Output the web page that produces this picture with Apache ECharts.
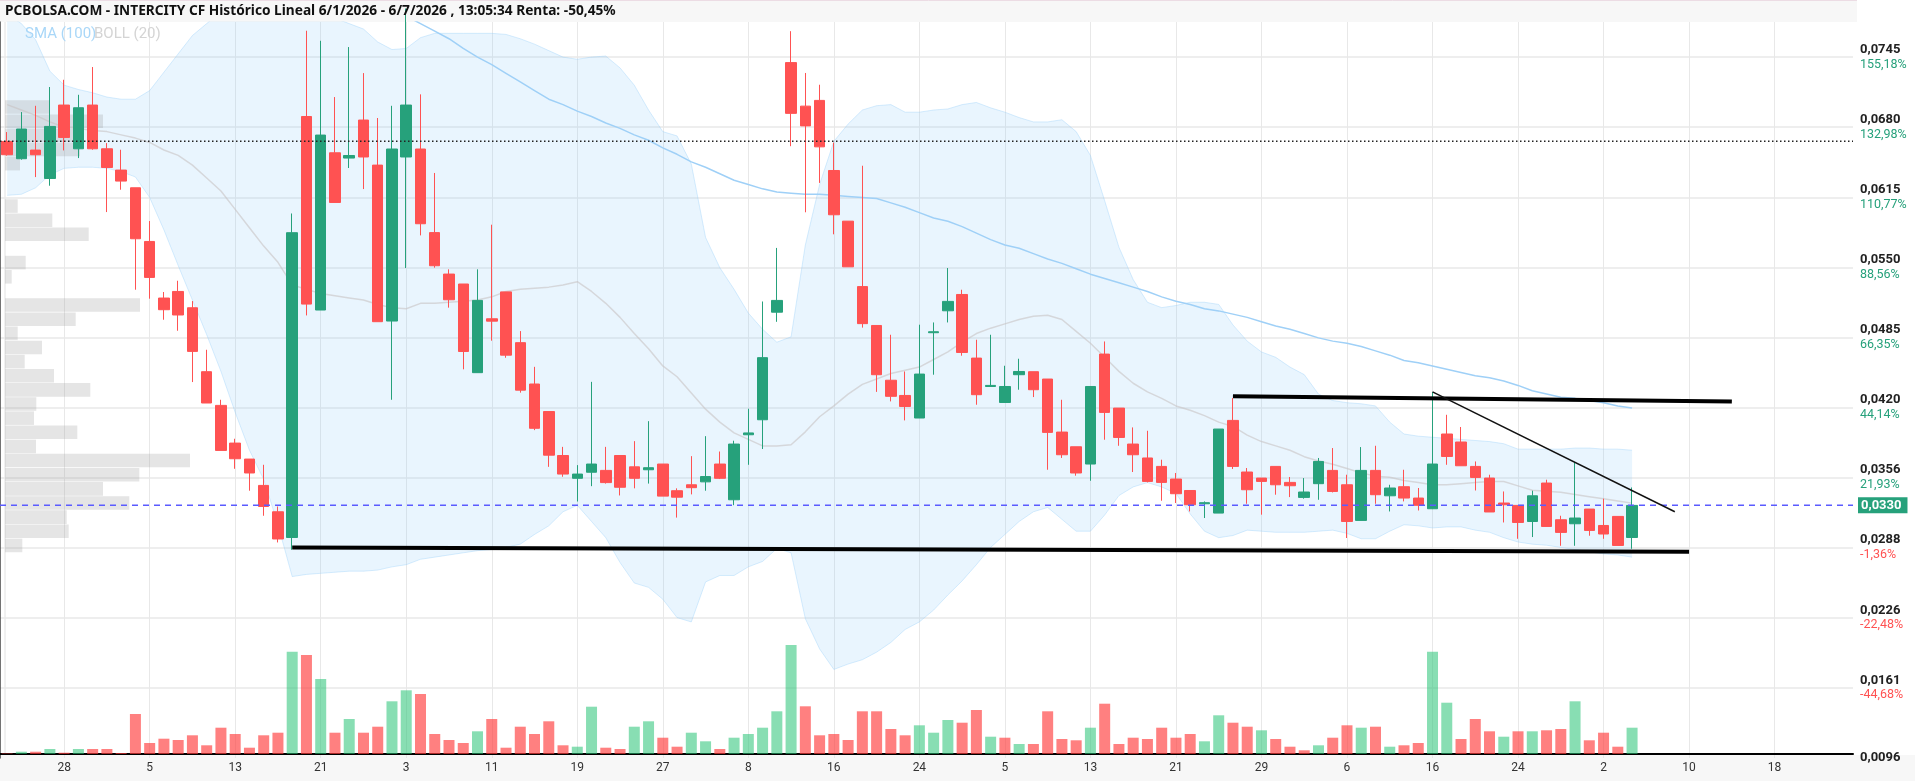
<!DOCTYPE html>
<html>
<head>
<meta charset="utf-8">
<title>INTERCITY CF</title>
<script src="https://cdn.jsdelivr.net/npm/echarts@6/dist/echarts.min.js"></script>
<style>
html, body { margin: 0; padding: 0; background: #fff; }
#chart { width: 1923px; height: 781px; }
</style>
</head>
<body>
<div id="chart"></div>
<script>
// velas: [apertura, cierre, minimo, maximo]
const candles = [
    [0.06669, 0.06546, 0.06537, 0.06756], [0.06509, 0.06784, 0.06500, 0.06941], [0.06589, 0.06546, 0.06339, 0.06999],
    [0.06326, 0.06808, 0.06259, 0.07173], [0.07006, 0.06706, 0.06586, 0.07240], [0.06601, 0.06981, 0.06515, 0.07101],
    [0.07006, 0.06601, 0.06592, 0.07358], [0.06601, 0.06428, 0.06015, 0.06654], [0.06404, 0.06302, 0.06222, 0.06592],
    [0.06240, 0.05768, 0.05296, 0.06240], [0.05743, 0.05410, 0.05213, 0.05932], [0.05219, 0.05111, 0.05018, 0.05275],
    [0.05280, 0.05062, 0.04916, 0.05379], [0.05129, 0.04725, 0.04441, 0.05191], [0.04537, 0.04247, 0.04247, 0.04740],
    [0.04225, 0.03808, 0.03808, 0.04277], [0.03876, 0.03731, 0.03638, 0.03916], [0.03728, 0.03599, 0.03435, 0.03728],
    [0.03484, 0.03289, 0.03203, 0.03675], [0.03240, 0.02988, 0.02956, 0.03289], [0.03002, 0.05824, 0.02888, 0.06002],
    [0.06900, 0.05163, 0.05058, 0.07694], [0.05108, 0.06728, 0.05108, 0.07601], [0.06564, 0.06104, 0.06104, 0.07080],
    [0.06515, 0.06539, 0.06423, 0.07543], [0.06867, 0.06525, 0.06228, 0.07302], [0.06450, 0.05000, 0.05000, 0.06886],
    [0.05006, 0.06599, 0.04277, 0.06999], [0.06525, 0.07006, 0.05497, 0.07900], [0.06599, 0.05907, 0.05799, 0.07105],
    [0.05825, 0.05518, 0.05500, 0.06377], [0.05441, 0.05203, 0.05130, 0.05485], [0.05349, 0.04724, 0.04559, 0.05349],
    [0.04528, 0.05197, 0.04528, 0.05485], [0.05027, 0.05005, 0.04824, 0.05898], [0.05276, 0.04690, 0.04666, 0.05276],
    [0.04806, 0.04366, 0.04343, 0.04913], [0.04423, 0.04013, 0.03996, 0.04582], [0.04168, 0.03764, 0.03656, 0.04168],
    [0.03761, 0.03589, 0.03564, 0.03841], [0.03550, 0.03589, 0.03335, 0.03672], [0.03606, 0.03682, 0.03477, 0.04443],
    [0.03623, 0.03510, 0.03501, 0.03841], [0.03761, 0.03467, 0.03391, 0.03761], [0.03656, 0.03550, 0.03457, 0.03894],
    [0.03629, 0.03648, 0.03501, 0.04079], [0.03682, 0.03385, 0.03385, 0.03682], [0.03435, 0.03375, 0.03186, 0.03457],
    [0.03490, 0.03463, 0.03401, 0.03755], [0.03517, 0.03566, 0.03435, 0.03940], [0.03682, 0.03550, 0.03543, 0.03798],
    [0.03351, 0.03867, 0.03301, 0.03898], [0.03953, 0.03970, 0.03675, 0.04194], [0.04092, 0.04667, 0.03821, 0.05187],
    [0.05088, 0.05197, 0.04999, 0.05683], [0.07399, 0.06929, 0.06625, 0.07690], [0.06996, 0.06813, 0.06013, 0.07303],
    [0.07049, 0.06619, 0.06285, 0.07194], [0.06400, 0.05990, 0.05809, 0.06658], [0.05931, 0.05508, 0.05508, 0.05931],
    [0.05325, 0.04982, 0.04945, 0.06444], [0.04965, 0.04509, 0.04350, 0.04965], [0.04458, 0.04309, 0.04262, 0.04879],
    [0.04317, 0.04215, 0.04086, 0.04539], [0.04108, 0.04515, 0.04108, 0.04972], [0.04898, 0.04907, 0.04509, 0.04993],
    [0.05101, 0.05188, 0.04993, 0.05497], [0.05252, 0.04715, 0.04685, 0.05296], [0.04663, 0.04324, 0.04231, 0.04833],
    [0.04400, 0.04410, 0.04400, 0.04879], [0.04252, 0.04400, 0.04252, 0.04592], [0.04509, 0.04539, 0.04370, 0.04657],
    [0.04537, 0.04370, 0.04302, 0.04537], [0.04469, 0.03975, 0.03629, 0.04469], [0.03978, 0.03768, 0.03738, 0.04277],
    [0.03842, 0.03599, 0.03574, 0.03842], [0.03682, 0.04400, 0.03527, 0.04400], [0.04700, 0.04160, 0.03907, 0.04817],
    [0.04200, 0.03928, 0.03851, 0.04200], [0.03867, 0.03768, 0.03608, 0.04021], [0.03738, 0.03521, 0.03512, 0.03990],
    [0.03660, 0.03512, 0.03342, 0.03722], [0.03543, 0.03407, 0.03321, 0.03599], [0.03437, 0.03305, 0.03243, 0.03437],
    [0.03314, 0.03324, 0.03182, 0.03336], [0.03228, 0.04006, 0.03228, 0.04006], [0.04086, 0.03660, 0.03636, 0.04293],
    [0.03608, 0.03444, 0.03314, 0.03645], [0.03552, 0.03521, 0.03213, 0.03552], [0.03660, 0.03490, 0.03398, 0.03660],
    [0.03512, 0.03481, 0.03376, 0.03562], [0.03373, 0.03423, 0.03361, 0.03552], [0.03500, 0.03706, 0.03351, 0.03738],
    [0.03623, 0.03428, 0.03419, 0.03830], [0.03490, 0.03150, 0.02997, 0.03583], [0.03160, 0.03623, 0.03160, 0.03839],
    [0.03623, 0.03398, 0.03314, 0.03851], [0.03388, 0.03460, 0.03243, 0.03490], [0.03472, 0.03367, 0.03336, 0.03629],
    [0.03367, 0.03300, 0.03252, 0.03460], [0.03268, 0.03682, 0.03265, 0.04349], [0.03960, 0.03752, 0.03675, 0.04138],
    [0.03886, 0.03666, 0.03666, 0.04025], [0.03660, 0.03558, 0.03437, 0.03706], [0.03552, 0.03238, 0.03238, 0.03583],
    [0.03321, 0.03305, 0.03141, 0.03428], [0.03299, 0.03141, 0.02990, 0.03299], [0.03150, 0.03388, 0.03006, 0.03435],
    [0.03506, 0.03104, 0.03104, 0.03537], [0.03166, 0.03049, 0.02925, 0.03203], [0.03129, 0.03182, 0.02925, 0.03700],
    [0.03265, 0.03067, 0.03018, 0.03265], [0.03113, 0.03034, 0.02990, 0.03361], [0.03197, 0.02928, 0.02928, 0.03197],
    [0.03002, 0.03299, 0.02897, 0.03465]
];

const volumes = [
    0.5, 2.3, 2.3, 5, 1.3, 5, 5, 5, 1, 40, 11, 15.3, 14, 18.7, 8.7, 26.3, 20, 6.3, 18.7, 21.3,
    102.3, 99, 75, 21.3, 35, 21.3, 27.3, 52.7, 63.7, 60, 20, 14, 11, 22.7, 35, 6.3, 27.3, 20, 32.7, 8.7,
    7.3, 47.3, 6.3, 5, 27.3, 32.7, 16.3, 7.3, 21.3, 12.7, 5, 16.3, 20, 26.3, 42.7, 109, 47.7, 18.7, 20, 14,
    42.7, 42.7, 25, 18.7, 28.7, 21.3, 34, 31.3, 44, 17.3, 16.3, 10, 10, 42.7, 15, 13.7, 26.3, 50.3, 10, 16.3,
    15, 26.3, 16.3, 20, 12.7, 38.7, 31.3, 27.3, 23.7, 15, 7.3, 3.7, 8.7, 16.3, 28.7, 26.3, 27.3, 7.3, 8.7, 11,
    102.3, 51.3, 15, 35, 22.7, 17.3, 22.7, 22.7, 23.7, 25, 52.7, 13.7, 21.3, 7.3, 26.3
];

const bollUpper = [
    0.0785, 0.0776, 0.0761, 0.0732, 0.0719, 0.0715, 0.0712, 0.0708, 0.0706, 0.0706,
    0.0714, 0.0731, 0.0748, 0.0765, 0.0776, 0.0787, 0.0792, 0.0793, 0.0789, 0.0796,
    0.0804, 0.0794, 0.0787, 0.0781, 0.0776, 0.0771, 0.0759, 0.0752, 0.0753, 0.0763,
    0.0767, 0.0767, 0.0767, 0.0767, 0.0767, 0.0766, 0.0762, 0.0757, 0.0751, 0.0745,
    0.0743, 0.0745, 0.0746, 0.0735, 0.0719, 0.0696, 0.0676, 0.0672, 0.0646, 0.0578,
    0.0550, 0.0530, 0.0508, 0.0493, 0.0481, 0.0486, 0.0571, 0.0627, 0.0667, 0.0683,
    0.0696, 0.0700, 0.0701, 0.0694, 0.0694, 0.0696, 0.0697, 0.0701, 0.0703, 0.0698,
    0.0694, 0.0689, 0.0685, 0.0685, 0.0687, 0.0676, 0.0654, 0.0612, 0.0569, 0.0539,
    0.0518, 0.0513, 0.0515, 0.0518, 0.0518, 0.0516, 0.0497, 0.0482, 0.0472, 0.0467,
    0.0458, 0.0451, 0.0433, 0.0427, 0.0425, 0.0424, 0.0422, 0.0407, 0.0396, 0.0394,
    0.0393, 0.0392, 0.0391, 0.0390, 0.0389, 0.0387, 0.0382, 0.0382, 0.0382, 0.0382,
    0.0383, 0.0383, 0.0382, 0.0382, 0.0381
];

const bollMid = [
    0.0701, 0.0696, 0.0691, 0.0685, 0.0680, 0.0679, 0.0677, 0.0676, 0.0673, 0.0670,
    0.0666, 0.0659, 0.0654, 0.0645, 0.0633, 0.0621, 0.0604, 0.0587, 0.0570, 0.0555,
    0.0534, 0.0530, 0.0526, 0.0524, 0.0522, 0.0520, 0.0516, 0.0513, 0.0512, 0.0517,
    0.0517, 0.0518, 0.0519, 0.0520, 0.0523, 0.0528, 0.0530, 0.0531, 0.0532, 0.0534,
    0.0537, 0.0528, 0.0517, 0.0504, 0.0489, 0.0475, 0.0459, 0.0449, 0.0434, 0.0419,
    0.0407, 0.0397, 0.0391, 0.0385, 0.0385, 0.0386, 0.0398, 0.0412, 0.0422, 0.0433,
    0.0442, 0.0447, 0.0452, 0.0455, 0.0458, 0.0465, 0.0472, 0.0481, 0.0489, 0.0494,
    0.0498, 0.0502, 0.0505, 0.0506, 0.0502, 0.0491, 0.0480, 0.0467, 0.0454, 0.0443,
    0.0435, 0.0429, 0.0422, 0.0418, 0.0413, 0.0407, 0.0403, 0.0395, 0.0389, 0.0385,
    0.0381, 0.0375, 0.0371, 0.0368, 0.0364, 0.0360, 0.0357, 0.0356, 0.0353, 0.0351,
    0.0349, 0.0349, 0.0350, 0.0351, 0.0352, 0.0352, 0.0348, 0.0344, 0.0343, 0.0342,
    0.0340, 0.0338, 0.0336, 0.0334, 0.0332
];

const bollLower = [
    0.0617, 0.0618, 0.0624, 0.0636, 0.0642, 0.0643, 0.0643, 0.0642, 0.0639, 0.0634,
    0.0615, 0.0585, 0.0552, 0.0520, 0.0488, 0.0454, 0.0416, 0.0381, 0.0354, 0.0312,
    0.0264, 0.0266, 0.0267, 0.0268, 0.0269, 0.0269, 0.0270, 0.0273, 0.0275, 0.0280,
    0.0282, 0.0284, 0.0286, 0.0288, 0.0289, 0.0291, 0.0294, 0.0303, 0.0311, 0.0324,
    0.0330, 0.0315, 0.0300, 0.0277, 0.0258, 0.0254, 0.0243, 0.0226, 0.0222, 0.0259,
    0.0265, 0.0265, 0.0273, 0.0278, 0.0290, 0.0286, 0.0225, 0.0197, 0.0178, 0.0183,
    0.0187, 0.0194, 0.0203, 0.0215, 0.0222, 0.0233, 0.0247, 0.0260, 0.0275, 0.0291,
    0.0303, 0.0315, 0.0324, 0.0328, 0.0317, 0.0306, 0.0306, 0.0321, 0.0339, 0.0347,
    0.0351, 0.0347, 0.0341, 0.0322, 0.0306, 0.0300, 0.0302, 0.0307, 0.0306, 0.0305,
    0.0305, 0.0305, 0.0306, 0.0307, 0.0304, 0.0299, 0.0299, 0.0306, 0.0312, 0.0311,
    0.0309, 0.0310, 0.0310, 0.0307, 0.0305, 0.0300, 0.0296, 0.0294, 0.0293, 0.0291,
    0.0289, 0.0287, 0.0285, 0.0284, 0.0282
];

// SMA(100): los primeros tramos quedan por encima del grafico
const sma100 = [
    null, null, null, null, null, null, null, null, null, null,
    null, null, null, null, null, null, null, null, null, null,
    null, null, null, null, null, null, null,
    0.0791, 0.0783, 0.0776, 0.0769, 0.0762, 0.0753, 0.0745, 0.0738, 0.0730, 0.0722,
    0.0714, 0.0706, 0.0701, 0.0695, 0.0690, 0.0684, 0.0679, 0.0673, 0.0668, 0.0661,
    0.0655, 0.0648, 0.0643, 0.0637, 0.0631, 0.0627, 0.0623, 0.0620, 0.0619, 0.0618,
    0.0618, 0.0617, 0.0616, 0.0615, 0.0614, 0.0610, 0.0606, 0.0601, 0.0596, 0.0593,
    0.0588, 0.0582, 0.0576, 0.0571, 0.0568, 0.0563, 0.0558, 0.0554, 0.0549, 0.0544,
    0.0540, 0.0536, 0.0532, 0.0528, 0.0523, 0.0519, 0.0516, 0.0512, 0.0510, 0.0507,
    0.0504, 0.0500, 0.0496, 0.0493, 0.0489, 0.0485, 0.0482, 0.0480, 0.0477, 0.0473,
    0.0469, 0.0464, 0.0462, 0.0459, 0.0456, 0.0453, 0.0450, 0.0448, 0.0445, 0.0441,
    0.0436, 0.0433, 0.0430, 0.0429, 0.0427, 0.0425, 0.0422, 0.0420
];

// perfil de volumen por tramo de precio (de arriba a abajo)
const volumeProfile = [
    45, 98, 75, 75, 15, 0, 0, 12.7, 47.3, 83.7, 0, 20.7, 6.7, 0, 135, 70.7,
    12.7, 37, 19.7, 49, 85.3, 31.3, 29, 72.3, 31, 185, 134.3, 98, 124.3, 61.7, 63.7, 17.3
];

const dateTicks = ['28', '5', '13', '21', '3', '11', '19', '27', '8', '16', '24',
    '5', '13', '21', '29', '6', '16', '24', '2', '10', '18'];

const priceTicks = [0.0096, 0.0161, 0.02258, 0.02907, 0.03556, 0.04205, 0.04854, 0.05503, 0.06152, 0.06801, 0.0745];
const priceLabels = ['0,0096', '0,0161', '0,0226', '0,0288', '0,0356', '0,0420', '0,0485', '0,0550', '0,0615', '0,0680', '0,0745'];
const pctLabels = ['', '-44,68%', '-22,48%', '-1,36%', '21,93%', '44,14%', '66,35%', '88,56%', '110,77%', '132,98%', '155,18%'];

const lastPrice = 0.0330;
const lastPriceLabel = '0,0330';
const dottedLevel = 0.0667;

// lineas de tendencia dibujadas a mano: [indice de sesion, precio]
const supportLine = [[20, 0.0291], [118, 0.0287]];
const resistanceLine = [[86, 0.0431], [121, 0.0426]];
const fallingLine = [[100, 0.0435], [117, 0.0324]];

const slotCount = 130;
const slots = [];
for (let i = 0; i < slotCount; i++) slots.push(i);
const profileBins = volumeProfile.map((v, i) => i);

const UP = '#26a17b';
const DOWN = '#ff5252';

const bandWidth = bollUpper.map((u, i) => u - bollLower[i]);
const volumeData = volumes.map((v, i) => {
    const c = candles[i][1];
    const prev = i > 0 ? candles[i - 1][1] : candles[i][0];
    return {
        value: v,
        itemStyle: { color: c >= prev ? 'rgba(38,194,117,0.55)' : 'rgba(255,60,60,0.65)' }
    };
});

function priceLabel(v) {
    let k = 0, best = Infinity;
    priceTicks.forEach((t, i) => {
        const d = Math.abs(t - v);
        if (d < best) { best = d; k = i; }
    });
    if (best > 0.001) return '';
    const pct = pctLabels[k];
    if (!pct) return '{p|' + priceLabels[k] + '}';
    return '{p|' + priceLabels[k] + '}\n{' + (pct.charAt(0) === '-' ? 'r' : 'g') + '|' + pct + '}';
}

const isDateTick = (i) => i % 6 === 4;

const chart = echarts.init(document.getElementById('chart'));

const option = {
    animation: false,
    backgroundColor: '#fff',
    textStyle: { fontFamily: 'Roboto' },
    grid: [
        { left: 0, right: 70, top: 22, bottom: 23, containLabel: false, outerBoundsMode: 'none' },
        { left: 0, right: 70, top: 634, bottom: 27, containLabel: false, outerBoundsMode: 'none' },
        { left: 5, width: 400, top: 100, bottom: 228.5, containLabel: false, outerBoundsMode: 'none' }
    ],
    xAxis: [
        {
            type: 'category', gridIndex: 0, data: slots, boundaryGap: true,
            axisLine: { show: false }, axisTick: { show: false }, axisLabel: { show: false },
            splitLine: { show: true, interval: isDateTick, alignWithLabel: true, lineStyle: { color: '#e8e8e8', width: 1 } }
        },
        {
            type: 'category', gridIndex: 1, data: slots, boundaryGap: true,
            axisLine: { show: true, lineStyle: { color: '#000', width: 2 } },
            axisTick: { show: false },
            splitLine: { show: false },
            axisLabel: {
                interval: isDateTick,
                formatter: (v, i) => dateTicks[(i - 4) / 6] || '',
                color: '#333', fontSize: 12, margin: 8
            }
        },
        { type: 'value', gridIndex: 2, min: 0, max: 400, show: false },
        // eje auxiliar 0..1 para las lineas horizontales de ancho completo
        { type: 'value', gridIndex: 0, min: 0, max: 1, show: false }
    ],
    yAxis: [
        {
            type: 'value', gridIndex: 0, position: 'right', offset: 4,
            min: 0.0096, max: 0.07775, scale: true,
            axisLine: { show: true, lineStyle: { color: '#444', width: 1.5 } },
            axisTick: { show: false, customValues: priceTicks },
            splitLine: { show: true, showMinLine: false, lineStyle: { color: '#e8e8e8', width: 1.5 } },
            axisLabel: {
                customValues: priceTicks,
                margin: 3,
                formatter: priceLabel,
                rich: {
                    p: { fontSize: 13, fontWeight: 'bold', color: '#222', lineHeight: 15, fontFamily: 'Roboto' },
                    g: { fontSize: 12.5, color: UP, lineHeight: 15, fontFamily: 'Roboto' },
                    r: { fontSize: 12.5, color: DOWN, lineHeight: 15, fontFamily: 'Roboto' }
                }
            }
        },
        { type: 'value', gridIndex: 1, min: 0, max: 120, show: false },
        { type: 'category', gridIndex: 2, data: profileBins, inverse: true, show: false }
    ],
    graphic: [
        { type: 'rect', shape: { x: 0, y: 0, width: 1857, height: 22 }, style: { fill: '#f7f7f7' }, z: -10, silent: true },
        { type: 'line', shape: { x1: 0, y1: 0.5, x2: 1857, y2: 0.5 }, style: { stroke: '#ecdce4', lineWidth: 1 }, z: -9, silent: true },
        { type: 'rect', shape: { x: 0, y: 755, width: 1915, height: 26 }, style: { fill: '#f7f7f7' }, z: -10, silent: true },
        { type: 'line', shape: { x1: 5, y1: 22, x2: 5, y2: 754 }, style: { stroke: '#e2e2e2', lineWidth: 1 }, z: -9, silent: true },
        {
            type: 'text', x: 5, y: 11, z: 100, silent: true,
            style: {
                text: 'PCBOLSA.COM - INTERCITY CF Histórico Lineal 6/1/2026 - 6/7/2026 , 13:05:34 Renta: -50,45%',
                font: 'bold 13.7px "Noto Sans"', fill: '#111', verticalAlign: 'middle'
            }
        },
        { type: 'text', x: 25, y: 34, z: 100, silent: true, style: { text: 'SMA (100)', font: '15px Roboto', fill: '#a9d7f8', verticalAlign: 'middle' } },
        { type: 'text', x: 94, y: 34, z: 100, silent: true, style: { text: 'BOLL (20)', font: '15px Roboto', fill: '#d4d4d4', verticalAlign: 'middle' } }
    ],
    series: [
        {
            name: 'bollLower', type: 'line', xAxisIndex: 0, yAxisIndex: 0, data: bollLower,
            stack: 'boll', symbol: 'none', silent: true, z: 1,
            lineStyle: { color: 'rgba(144,202,249,0.35)', width: 1 }
        },
        {
            name: 'bollBand', type: 'line', xAxisIndex: 0, yAxisIndex: 0, data: bandWidth,
            stack: 'boll', symbol: 'none', silent: true, z: 1,
            lineStyle: { color: 'rgba(144,202,249,0.35)', width: 1 },
            areaStyle: { color: 'rgba(144,202,249,0.28)' }
        },
        {
            name: 'bollMid', type: 'line', xAxisIndex: 0, yAxisIndex: 0, data: bollMid,
            symbol: 'none', silent: true, z: 1,
            lineStyle: { color: 'rgba(200,195,195,0.6)', width: 1.5 }
        },
        {
            name: 'SMA 100', type: 'line', xAxisIndex: 0, yAxisIndex: 0, data: sma100,
            symbol: 'none', silent: true, z: 1,
            lineStyle: { color: '#9fd0f7', width: 1.5 }
        },
        {
            name: 'perfil', type: 'bar', xAxisIndex: 2, yAxisIndex: 2, data: volumeProfile,
            barCategoryGap: '4%', silent: true, z: 1,
            itemStyle: { color: 'rgba(150,150,150,0.25)' }
        },
        {
            name: 'volumen', type: 'bar', xAxisIndex: 1, yAxisIndex: 1, data: volumeData,
            barWidth: 11, silent: true, z: 2
        },
        {
            name: 'INTERCITY CF', type: 'candlestick', xAxisIndex: 0, yAxisIndex: 0, data: candles,
            barWidth: 11, z: 3,
            itemStyle: { color: UP, color0: DOWN, borderColor: UP, borderColor0: DOWN, borderWidth: 1 }
        },
        {
            name: 'nivel', type: 'line', xAxisIndex: 3, yAxisIndex: 0,
            data: [[0, dottedLevel], [1, dottedLevel]],
            symbol: 'none', silent: true, z: 4,
            lineStyle: { color: '#222', type: [1.5, 2.5], width: 1.5 }
        },
        {
            name: 'ultimo', type: 'line', xAxisIndex: 3, yAxisIndex: 0,
            data: [[0, lastPrice], [1, lastPrice]],
            symbol: 'none', silent: true, z: 4,
            lineStyle: { color: '#5b5bff', type: [6, 5], width: 1.5 },
            endLabel: {
                show: true, formatter: lastPriceLabel, distance: 5,
                backgroundColor: UP, color: '#fff', fontWeight: 'bold', fontSize: 13,
                fontFamily: 'Roboto', padding: [2, 6, 1, 3]
            }
        },
        {
            name: 'soporte', type: 'line', xAxisIndex: 0, yAxisIndex: 0, data: supportLine,
            symbol: 'none', silent: true, z: 4, lineStyle: { color: '#000', width: 4 }
        },
        {
            name: 'resistencia', type: 'line', xAxisIndex: 0, yAxisIndex: 0, data: resistanceLine,
            symbol: 'none', silent: true, z: 4, lineStyle: { color: '#000', width: 4 }
        },
        {
            name: 'bajista', type: 'line', xAxisIndex: 0, yAxisIndex: 0, data: fallingLine,
            symbol: 'none', silent: true, z: 4, lineStyle: { color: '#111', width: 1.5 }
        }
    ]
};

chart.setOption(option);
</script>
</body>
</html>
